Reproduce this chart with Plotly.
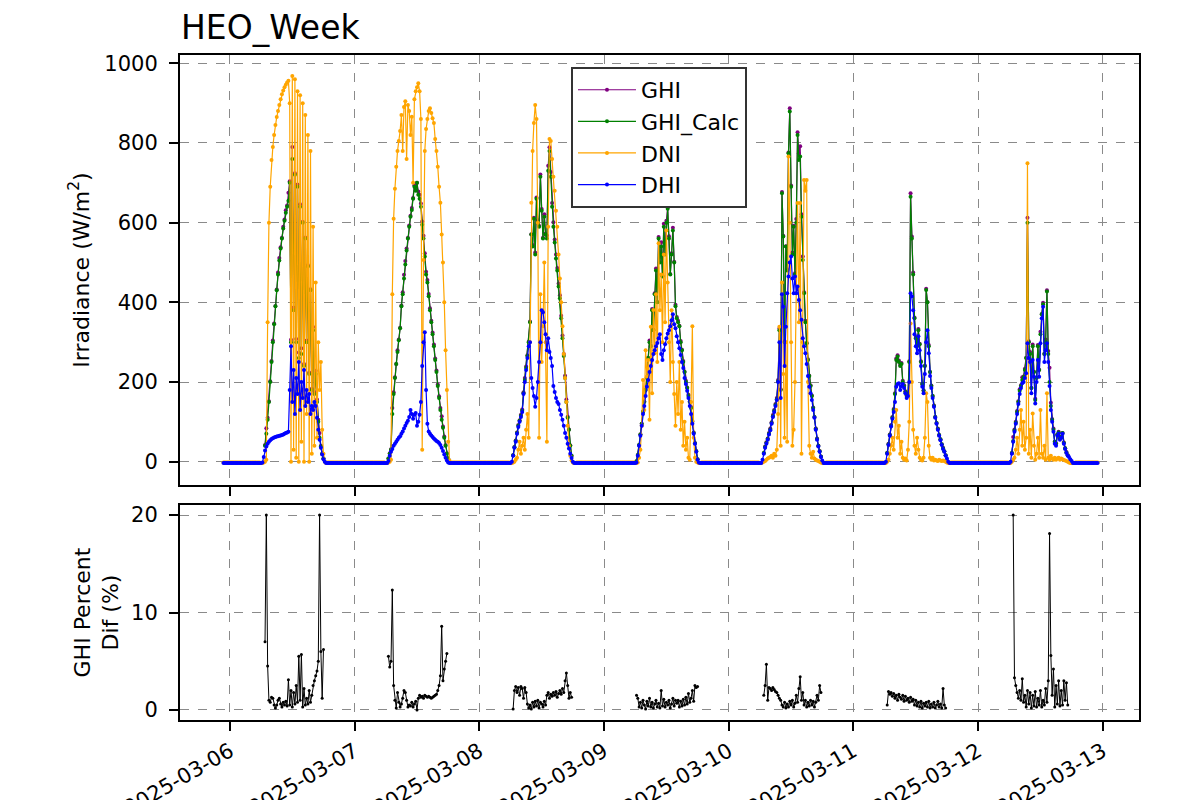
import numpy as np
import pandas as pd
import plotly.graph_objects as go
from plotly.subplots import make_subplots

N = None
DAY_DATES = ["2025-03-06", "2025-03-07", "2025-03-08", "2025-03-09",
             "2025-03-10", "2025-03-11", "2025-03-12"]
DAY_FIRST_SAMPLE = "06:00"
SAMPLE_STEP = "15min"
RECORD_START = "2025-03-05 22:45"
RECORD_END = "2025-03-12 23:00"
NIGHT_DHI = -3
NIGHT_DNI = -2

# ---- 2025-03-06 (06:00 .. 18:30, 15 min) ----
DHI_0306 = [-3, -2, 12, 28, 38, 45, 50, 54, 57, 59, 61, 62, 63, 64, 65, 66, 67, 68, 70, 72,
            73, 75, 180, 290, 150, 230, 120, 210, 170, 250, 130, 200, 160, 230, 140, 180,
            150, 170, 120, 140, 130, 150, 140, 110, 80, 55, 35, 18, 6, 0, -3]
GHI_CALC_0306 = [N, N, N, 40, 70, 105, 150, 200, 250, 300, 345, 390, 430, 470, 505, 535,
                 560, 585, 605, 625, 640, 655, 700, 300, 760, 380, 720, 300, 690, 260, 640, 270,
                 600, 240, 560, 300, 490, 220, 430, 180, 330, 170, 220, 150, 100, 60, 38, 20, 8, N, N]
GHI_0306 = [N, N, N, 42, 84, 110, 152, 202, 253, 304, 347, 391, 432, 475, 511, 538,
            562, 590, 608, 631, 643, 675, 704, 306, 790, 387, 724, 308, 696, 274, 646, 285,
            602, 245, 563, 304, 493, 224, 433, 183, 338, 175, 228, 156, 105, 72, 40, 20, 8, N, N]
DNI_0306 = [-3, -3, -2, 0, 5, 350, 600, 690, 757, 790, 820, 845, 865, 880, 895, 910,
            922, 932, 940, 946, 952, 956, 900, 0, 968, 30, 960, 10, 930, 0, 920, 50,
            900, 0, 870, 120, 820, 0, 780, 20, 590, 40, 450, 60, 300, 180, 250, 80, 20, 0, -3]
DIFF_0306 = [N, N, N, 7.0, 20.0, 4.5, 1.0, 0.8, 1.3, 1.2, 0.5, 0.2, 0.5, 1.0, 1.2, 0.6,
             0.3, 0.8, 0.5, 0.9, 0.4, 3.1, 0.5, 2.0, 0.3, 1.8, 0.6, 2.5, 0.8, 5.5, 1.0, 5.7,
             0.3, 2.2, 0.5, 1.2, 0.6, 2.0, 0.8, 1.5, 2.5, 3.0, 3.5, 4.0, 5.0, 20.0, 6.0, 1.2, 6.2, N, N]

# ---- 2025-03-07 ----
DHI_0307 = [-3, -3, 2, 15, 25, 32, 40, 45, 50, 55, 60, 64, 70, 76, 83, 90,
            97, 103, 112, 130, 120, 108, 118, 122, 90, 100, 118, 150, 240, 300, 325, 180,
            95, 76, 70, 66, 62, 58, 55, 52, 50, 47, 42, 35, 27, 18, 10, 3, -2, -3, -3]
GHI_CALC_0307 = [N, N, 8, 20, 30, 120, 170, 210, 245, 275, 305, 335, 390, 420, 460, 495,
                 530, 560, 590, 615, 632, 660, 690, 680, 700, 670, 660, 640, 595, 560, 515, 470,
                 450, 415, 380, 350, 320, 290, 255, 225, 190, 160, 130, 105, 85, 60, 40, 20, 8, N, N]
GHI_0307 = [N, N, 8, 21, 31, 135, 174, 212, 245, 280, 307, 336, 392, 425, 469, 504,
            535, 562, 593, 617, 637, 662, 694, 686, 700, 678, 670, 648, 603, 567, 523, 477,
            456, 421, 385, 354, 324, 294, 259, 229, 194, 164, 135, 114, 88, 63, 42, 21, 8, N, N]
DNI_0307 = [-3, -3, -2, 0, 5, 420, 610, 685, 740, 780, 805, 830, 870, 780, 890, 905,
            760, 895, 880, 820, 866, 700, 910, 930, 940, 950, 930, 860, 30, 506, 780, 835,
            860, 880, 887, 875, 862, 850, 810, 780, 740, 690, 650, 570, 500, 400, 280, 180, 50, 3, -3]
DIFF_0307 = [N, N, 5.5, 4.4, 5.0, 12.3, 2.5, 1.0, 0.2, 1.8, 0.8, 0.3, 0.6, 1.2, 2.0, 1.8,
             1.0, 0.3, 0.5, 0.4, 0.8, 0.3, 0.6, 0.9, 0.0, 1.2, 1.5, 1.3, 1.4, 1.2, 1.5, 1.4,
             1.3, 1.4, 1.3, 1.2, 1.3, 1.4, 1.5, 1.6, 2.0, 2.5, 3.5, 8.6, 3.0, 4.2, 5.0, 5.8, N, N, N]

# ---- 2025-03-08 ----
DHI_0308 = [-3, 0, 15, 35, 50, 70, 87, 100, 112, 125, 170, 200, 230, 260, 290, 300,
            210, 185, 165, 138, 160, 200, 250, 300, 380, 375, 350, 320, 280, 310, 275, 260,
            240, 190, 175, 160, 150, 145, 130, 118, 105, 90, 72, 60, 45, 33, 20, 9, 0, -3, -3]
GHI_CALC_0308 = [N, N, 16, 36, 52, 72, 90, 103, 115, 128, 172, 205, 235, 265, 300, 350,
                 570, 540, 610, 520, 660, 600, 590, 715, 630, 560, 615, 570, 560, 730, 780, 715,
                 640, 590, 550, 510, 480, 440, 410, 360, 310, 265, 210, 150, 110, 80, 40, 15, N, N, N]
GHI_0308 = [N, N, 16, 37, 53, 73, 92, 104, 118, 131, 174, 210, 239, 267, 301, 352,
            571, 544, 612, 525, 663, 606, 592, 721, 634, 562, 621, 573, 568, 743, 789, 727,
            649, 601, 558, 520, 486, 447, 418, 366, 317, 270, 216, 156, 113, 81, 41, 15, N, N, N]
DNI_0308 = [-3, -3, -2, 0, 5, 10, 30, 50, 20, 40, 60, 30, 80, 120, 60, 300,
            650, 780, 850, 895, 860, 600, 60, 420, 250, 340, 500, 300, 50, 590, 810, 805,
            760, 715, 680, 630, 590, 520, 460, 400, 340, 270, 210, 150, 90, 40, 15, 3, -2, -3, -3]
DIFF_0308 = [N, N, 0.1, 2.0, 2.4, 1.8, 2.3, 1.5, 2.4, 2.2, 1.2, 2.3, 1.8, 0.6, 0.2, 0.5,
             0.1, 0.8, 0.3, 0.9, 0.4, 1.0, 0.2, 0.8, 0.6, 0.3, 0.9, 0.5, 1.5, 1.8, 1.2, 1.6,
             1.4, 1.8, 1.5, 1.9, 1.3, 1.7, 2.0, 1.6, 2.2, 1.8, 3.0, 3.8, 2.5, 1.2, 1.8, 1.3, N, N, N]

# ---- 2025-03-09 ----
DHI_0309 = [-3, -2, 15, 40, 65, 90, 120, 140, 165, 188, 205, 225, 240, 255, 270, 280,
            290, 298, 310, 320, 270, 255, 280, 295, 310, 322, 330, 340, 355, 370, 345, 335,
            315, 300, 285, 268, 250, 235, 210, 195, 178, 160, 140, 120, 95, 70, 45, 25, 5, -2, -3]
GHI_CALC_0309 = [N, 1, 17, 42, 68, 95, 125, 150, 180, 210, 260, 300, 290, 380, 330, 420,
                 480, 400, 560, 500, 540, 465, 590, 520, 600, 635, 560, 470, 520, 580, 500, 390,
                 360, 350, 340, 300, 280, 250, 225, 200, 185, 165, 150, 135, 100, 72, 46, 26, 6, N, N]
GHI_0309 = [N, 1, 17, 42, 69, 95, 126, 151, 180, 212, 261, 304, 291, 383, 331, 423,
            485, 401, 564, 501, 551, 467, 597, 522, 605, 638, 566, 471, 523, 587, 502, 394,
            363, 354, 341, 303, 281, 253, 226, 203, 186, 168, 151, 137, 102, 73, 47, 27, 6, N, N]
DNI_0309 = [-3, -3, -2, 10, 30, 90, 205, 130, 280, 213, 255, 105, 339, 172, 381, 272,
            420, 250, 548, 380, 470, 300, 520, 350, 580, 450, 300, 200, 380, 250, 170, 90,
            200, 120, 250, 80, 150, 40, 100, 30, 60, 10, 5, 150, 340, 60, 10, 0, -2, -3, -3]
DIFF_0309 = [N, 1.5, 1.2, 0.3, 0.8, 0.2, 1.0, 0.5, 0.1, 0.9, 0.4, 1.2, 0.3, 0.8, 0.2, 0.6,
             1.0, 0.3, 0.7, 0.2, 2.0, 0.4, 1.1, 0.3, 0.8, 0.5, 1.0, 0.2, 0.6, 1.2, 0.4, 1.0,
             0.7, 1.0, 0.3, 0.9, 0.4, 1.1, 0.5, 1.3, 0.6, 1.7, 0.8, 1.2, 2.0, 0.9, 2.5, 2.3, 2.4, N, N]

# ---- 2025-03-10 ----
DHI_0310 = [-3, -3, 5, 20, 35, 45, 55, 68, 79, 95, 112, 125, 140, 155, 200, 300,
            160, 420, 389, 240, 339, 423, 465, 500, 515, 460, 423, 465, 423, 440, 406, 380,
            356, 310, 290, 272, 245, 215, 188, 172, 155, 130, 110, 80, 55, 38, 25, 12, 3, -3, -3]
GHI_CALC_0310 = [N, N, N, 22, 37, 47, 57, 70, 81, 97, 114, 127, 142, 157, 202, 330,
                 180, 674, 565, 300, 540, 480, 774, 879, 690, 520, 590, 470, 600, 820, 757, 766,
                 615, 506, 423, 350, 297, 255, 215, 190, 165, 135, 112, 82, 57, 40, 26, 13, N, N, N]
GHI_0310 = [N, N, N, 22, 38, 49, 58, 72, 83, 99, 117, 130, 145, 160, 205, 334,
            182, 677, 567, 302, 541, 483, 776, 887, 693, 525, 592, 473, 609, 827, 774, 792,
            621, 515, 425, 354, 298, 257, 216, 192, 166, 136, 112, 83, 58, 40, 27, 13, N, N, N]
DNI_0310 = [-3, -3, -2, 0, 2, 5, 8, 10, 12, 15, 10, 20, 15, 30, 120, 339,
            40, 450, 220, 60, 300, 50, 766, 600, 300, 40, 80, 200, 423, 649, 350, 649,
            20, 300, 707, 680, 707, 200, 40, 20, 10, 25, 8, 5, 3, 2, 0, -2, -3, -3, -3]
DIFF_0310 = [N, N, N, 1.5, 2.5, 4.7, 1.0, 2.3, 2.2, 2.0, 2.3, 2.1, 1.9, 1.8, 1.5, 1.2,
             1.0, 0.5, 0.3, 0.8, 0.2, 0.6, 0.3, 0.9, 0.5, 1.0, 0.3, 0.7, 1.5, 0.8, 2.2, 3.4,
             1.0, 1.8, 0.5, 1.0, 0.3, 0.8, 0.4, 1.0, 0.5, 0.9, 0.3, 0.8, 1.5, 1.0, 2.5, 1.8, N, N, N]

# ---- 2025-03-11 ----
DHI_0311 = [-3, 0, 20, 42, 65, 88, 108, 125, 150, 188, 195, 197, 180, 190, 195, 185,
            172, 160, 165, 200, 423, 415, 380, 320, 290, 272, 315, 280, 240, 188, 172, 220,
            300, 330, 272, 215, 185, 160, 138, 110, 95, 80, 65, 54, 42, 32, 25, 15, 8, 0, -3]
GHI_CALC_0311 = [N, N, 22, 44, 67, 90, 110, 130, 170, 255, 264, 250, 240, 245, 200, 190,
                 175, 165, 170, 250, 665, 560, 470, 360, 310, 290, 330, 295, 250, 195, 178, 240,
                 431, 400, 290, 225, 190, 165, 140, 112, 97, 82, 67, 56, 44, 34, 26, 16, N, N, N]
GHI_0311 = [N, N, 22, 45, 68, 92, 112, 132, 172, 259, 267, 254, 243, 248, 203, 192,
            177, 167, 172, 252, 674, 565, 475, 362, 313, 291, 333, 296, 252, 195, 179, 241,
            434, 401, 293, 225, 191, 165, 141, 112, 97, 83, 67, 56, 44, 35, 26, 16, N, N, N]
DNI_0311 = [-3, -3, 0, 5, 20, 40, 60, 30, 100, 130, 60, 90, 20, 50, 10, 5,
            8, 3, 30, 100, 347, 200, 80, 40, 20, 60, 30, 10, 5, 3, 10, 60,
            172, 150, 40, 10, 5, 10, 3, 5, 3, 2, 5, 3, 2, 3, 2, 0, -2, -3, -3]
DIFF_0311 = [N, N, 0.5, 1.9, 1.6, 1.8, 1.4, 1.7, 1.2, 1.5, 1.0, 1.6, 1.3, 1.1, 1.5, 0.9,
             1.4, 1.0, 1.2, 0.8, 1.3, 0.9, 1.1, 0.5, 1.0, 0.4, 0.8, 0.3, 0.9, 0.2, 0.7, 0.4,
             0.8, 0.3, 0.9, 0.2, 0.6, 0.3, 0.8, 0.2, 0.5, 0.9, 0.3, 0.6, 0.2, 2.2, 0.5, 0.2, N, N, N]

# ---- 2025-03-12 ----
DHI_0312 = [-3, 0, 20, 50, 75, 95, 120, 145, 170, 185, 197, 200, 210, 222, 297, 260,
            250, 172, 255, 213, 146, 200, 255, 213, 297, 360, 389, 250, 280, 297, 250, 190,
            130, 100, 75, 45, 40, 65, 71, 55, 60, 70, 45, 32, 22, 15, 12, 6, 2, -3, -3]
GHI_CALC_0312 = [N, N, 22, 52, 78, 98, 125, 150, 178, 190, 205, 212, 230, 260, 600, 300,
                 270, 185, 290, 225, 155, 210, 290, 230, 320, 370, 395, 270, 300, 427, 270, 200,
                 140, 105, 80, 50, 45, 68, 73, 58, 62, 72, 47, 34, 23, 16, N, N, N, N, N]
GHI_0312 = [N, N, 22, 62, 81, 100, 127, 152, 182, 192, 212, 214, 233, 261, 612, 302,
            275, 185, 294, 226, 158, 211, 293, 231, 326, 371, 399, 271, 307, 430, 278, 236,
            148, 107, 83, 50, 46, 68, 75, 58, 63, 72, 48, 34, 24, 16, N, N, N, N, N]
DNI_0312 = [-3, -3, 0, 5, 10, 30, 60, 20, 80, 130, 40, 100, 30, 60, 749, 20,
            80, 10, 121, 40, 5, 20, 60, 10, 130, 20, 10, 40, 5, 172, 10, 5,
            15, 8, 5, 10, 5, 8, 10, 5, 8, 6, 4, 3, 2, 0, -2, -3, -3, -3, -3]
DIFF_0312 = [N, N, N, 20.0, 3.3, 2.5, 1.8, 1.2, 2.0, 1.0, 3.2, 0.8, 1.5, 0.3, 2.0, 0.6,
             1.8, 0.2, 1.5, 0.4, 1.9, 0.3, 1.2, 0.5, 2.0, 0.3, 1.0, 0.5, 2.2, 0.8, 3.0, 18.1,
             5.6, 1.5, 4.2, 0.3, 2.5, 0.6, 3.0, 0.4, 2.0, 0.5, 3.0, 1.0, 2.8, 0.5, N, N, N, N, N]

Y_TICKS_TOP = [0, 200, 400, 600, 800, 1000]
Y_TICKS_BOTTOM = [0, 10, 20]

grid = pd.date_range(RECORD_START, RECORD_END, freq=SAMPLE_STEP)


def assemble(day_lists, night_value):
    s = pd.Series(np.nan if night_value is None else float(night_value), index=grid)
    for date, vals in zip(DAY_DATES, day_lists):
        idx = pd.date_range(f"{date} {DAY_FIRST_SAMPLE}", periods=len(vals), freq=SAMPLE_STEP)
        s.loc[idx] = [np.nan if v is None else float(v) for v in vals]
    return s


ghi = assemble([GHI_0306, GHI_0307, GHI_0308, GHI_0309, GHI_0310, GHI_0311, GHI_0312], None)
ghi_calc = assemble([GHI_CALC_0306, GHI_CALC_0307, GHI_CALC_0308, GHI_CALC_0309,
                     GHI_CALC_0310, GHI_CALC_0311, GHI_CALC_0312], None)
dni = assemble([DNI_0306, DNI_0307, DNI_0308, DNI_0309, DNI_0310, DNI_0311, DNI_0312], NIGHT_DNI)
dhi = assemble([DHI_0306, DHI_0307, DHI_0308, DHI_0309, DHI_0310, DHI_0311, DHI_0312], NIGHT_DHI)
diff = assemble([DIFF_0306, DIFF_0307, DIFF_0308, DIFF_0309, DIFF_0310, DIFF_0311, DIFF_0312], None)

FONT = "DejaVu Sans"
# the page body has an 8px margin; the figure is sized and placed to compensate
W, H, OFF = 1192, 792, 8

fig = make_subplots(rows=2, cols=1, shared_xaxes=True)

series = [("GHI", ghi, "#800080"), ("GHI_Calc", ghi_calc, "#008000"),
          ("DNI", dni, "#FFA500"), ("DHI", dhi, "#0000FF")]
for name, s, color in series:
    fig.add_trace(go.Scatter(x=s.index, y=s.values, name=name, mode="lines+markers",
                             legendgroup=name,
                             line=dict(color=color, width=1.2),
                             marker=dict(color=color, size=4),
                             connectgaps=False), row=1, col=1)

fig.add_trace(go.Scatter(x=diff.index, y=diff.values, name="GHI Percent Dif",
                         mode="lines+markers", showlegend=False,
                         line=dict(color="black", width=1),
                         marker=dict(color="black", size=3)), row=2, col=1)

axis_common = dict(showline=True, linecolor="black", linewidth=2, mirror=True,
                   ticks="outside", ticklen=9, tickwidth=2, tickcolor="black",
                   showgrid=True, gridcolor="#8a8a8a", griddash="dash", gridwidth=1,
                   zeroline=False, tickfont=dict(family=FONT, size=21, color="black"))

x_range = ["2025-03-05 14:23", "2025-03-13 06:58"]
fig.update_xaxes(**axis_common)
fig.update_xaxes(range=x_range, tick0="2025-03-06", dtick=86400000, tickformat="%Y-%m-%d",
                 domain=[0, 1])
fig.update_xaxes(showticklabels=False, row=1, col=1)
fig.update_xaxes(tickangle=-30, ticklabelstandoff=0, row=2, col=1)

fig.update_yaxes(**axis_common)
fig.update_yaxes(ticklabelstandoff=7)
fig.update_yaxes(range=[-58.5, 1020.8], tickvals=Y_TICKS_TOP, domain=[0.3534, 1.0],
                 title=dict(text="Irradiance (W/m<sup>2</sup>)",
                            font=dict(family=FONT, size=22, color="black"), standoff=9),
                 row=1, col=1)
fig.update_yaxes(range=[-1.03, 21.03], tickvals=Y_TICKS_BOTTOM, domain=[0.0, 0.3233],
                 title=dict(text="GHI Percent<br>Dif (%)",
                            font=dict(family=FONT, size=22, color="black"), standoff=6),
                 row=2, col=1)

fig.update_layout(
    width=W, height=H,
    margin=dict(l=180 - OFF, r=61, t=55 - OFF, b=80, autoexpand=False),
    paper_bgcolor="white", plot_bgcolor="white",
    font=dict(family=FONT, color="black"),
    title=dict(text="HEO_Week", x=(181 - OFF) / W, xanchor="left", xref="container",
               y=1 - (27 - OFF) / H, yanchor="middle", yref="container",
               font=dict(family=FONT, size=33, color="black")),
    legend=dict(x=0.4077, y=0.982, xanchor="left", yanchor="top",
                bgcolor="white", bordercolor="#333333", borderwidth=2,
                itemwidth=58, tracegroupgap=0,
                font=dict(family=FONT, size=22, color="black")),
    showlegend=True,
)

fig.write_html("out.html")
